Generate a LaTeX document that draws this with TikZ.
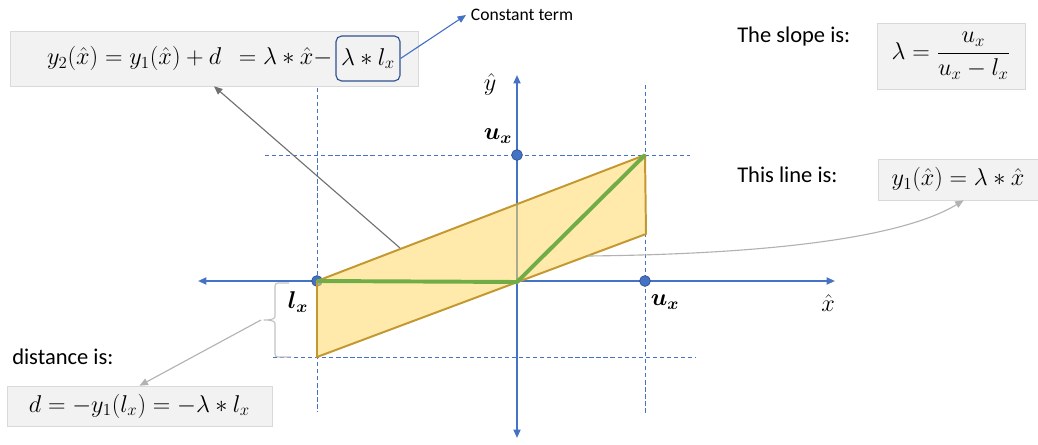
\documentclass[tikz,border=0pt]{standalone}
\usepackage{amsmath}
\usepackage[no-math]{fontspec}
\setmainfont{Carlito}
\usetikzlibrary{arrows.meta,positioning}

\definecolor{axisblue}{RGB}{68,114,196}
\definecolor{dotedge}{RGB}{47,82,143}
\definecolor{areafill}{RGB}{255,217,102}
\definecolor{areaedge}{RGB}{196,152,48}
\definecolor{linegreen}{RGB}{112,173,71}
\definecolor{boxgray}{RGB}{242,242,242}
\definecolor{boxedge}{RGB}{217,217,217}
\definecolor{pointergray}{RGB}{178,178,178}
\definecolor{pointerdark}{RGB}{112,112,112}

\newcommand{\eqfont}{\fontsize{17.5}{20}\selectfont}
\newcommand{\capfont}{\fontsize{16}{19}\selectfont}
\newcommand{\notefont}{\fontsize{12.5}{15}\selectfont}

\begin{document}
\begin{tikzpicture}[
  x=0.025cm, y=-0.025cm,
  >={Triangle[length=6pt,width=5pt]},
  axis/.style={<->, axisblue, line width=1.3pt},
  guide/.style={axisblue, densely dashed, line width=0.6pt},
  area/.style={fill=areafill, fill opacity=0.55, draw=areaedge,
              line width=1.4pt, line join=round},
  dot/.style={circle, fill=axisblue, draw=dotedge, line width=0.5pt,
              minimum size=0.27cm, inner sep=0pt},
  ptlabel/.style={font=\eqfont, inner sep=1pt},
  caption/.style={font=\capfont, anchor=west, inner sep=0pt},
  mathbox/.style={draw=boxedge, fill=boxgray, font=\eqfont, inner sep=0pt},
  constbox/.style={draw=dotedge, rounded corners=4pt, line width=0.8pt,
              font=\eqfont, minimum width=1.6cm, minimum height=1.125cm,
              inner sep=0pt},
  pointer/.style={->, pointergray, line width=0.8pt},
]
\useasboundingbox (0,0) rectangle (1038,445);

% guides
\draw[guide] (317,88) -- (317,412);
\draw[guide] (645,85) -- (645,413);
\draw[guide] (265,155) -- (690,155);
\draw[guide] (273,357) -- (695,357);

% axes
\coordinate (xl) at (198,281);
\coordinate (xr) at (835,281);
\coordinate (yt) at (517,75);
\coordinate (yb) at (517,438);
\draw[axis] (xl) -- (xr);
\draw[axis] (yb) -- (yt);

\node[dot] (lx) at (317,281) {};
\node[dot] (uy) at (517,155) {};
\node[dot] (ux) at (645,281) {};

% feasible region and the relu
\draw[area] (317,281) -- (645,155) -- (646,234) -- (317,357) -- cycle;
\draw[linegreen, line width=2.8pt, line join=round] (lx.center) -- (517,282) -- (645,155);

\node[ptlabel] (yhat) at (490,84) {$\hat{y}$};
\node[ptlabel] (uylbl) at (498,136) {$\boldsymbol{u_x}$};
\node[ptlabel] (lxlbl) at (298,302) {$\boldsymbol{l_x}$};
\node[ptlabel] (uxlbl) at (665,302) {$\boldsymbol{u_x}$};
\node[ptlabel] (xhat) at (828,303) {$\hat{x}$};

% upper bound
\node[mathbox, minimum width=10.2cm, minimum height=1.375cm] (eqbox) at (214,58.5) {};
\node[ptlabel, anchor=east] (eqtext) at (334,58.5)
  {$y_2(\hat{x}) = y_1(\hat{x}) + d \;\,= \lambda * \hat{x} -$};
\node[constbox] (cterm) at (368,58.5) {$\lambda * l_x$};
\node[font=\notefont, anchor=west] (ctext) at (466,15) {Constant term};
\draw[->, axisblue, line width=0.8pt] (cterm.east) -- (ctext.west);

% slope and line
\node[caption] (slopecap) at (737,37) {The slope is:};
\node[mathbox, minimum width=3.7cm, minimum height=1.65cm] (slopebox) at (951,56)
  {$\lambda = \dfrac{u_x}{u_x - l_x}$};
\node[caption] (linecap) at (737,175) {This line is:};
\node[mathbox, minimum width=4cm, minimum height=1.025cm] (linebox) at (958,179.5)
  {$y_1(\hat{x}) = \lambda * \hat{x}$};

% distance
\node[caption] (distcap) at (12,357) {distance is:};
\node[mathbox, minimum width=6.625cm, minimum height=1cm] (distbox) at (139.5,406)
  {$d = -y_1(l_x) = -\lambda * l_x$};

\draw[pointergray!80, line width=0.8pt, rounded corners=2pt]
  (289,283) -- (275,283) -- (275,314) to[out=-90, in=0] (262,320)
  to[out=0, in=90] (275,326) -- (275,357) -- (291,357);
\coordinate (bracetip) at (261,320);
\coordinate (upperpt) at (400,248);
\coordinate (lowerpt) at (588,256);

\draw[pointer, pointerdark] (upperpt) -- (eqbox.south);
\draw[pointer] (lowerpt) .. controls (780,254) and (905,236) .. ([xshift=4pt]linebox.south);
\draw[pointer] (bracetip) -- (distbox.north);

\end{tikzpicture}
\end{document}
